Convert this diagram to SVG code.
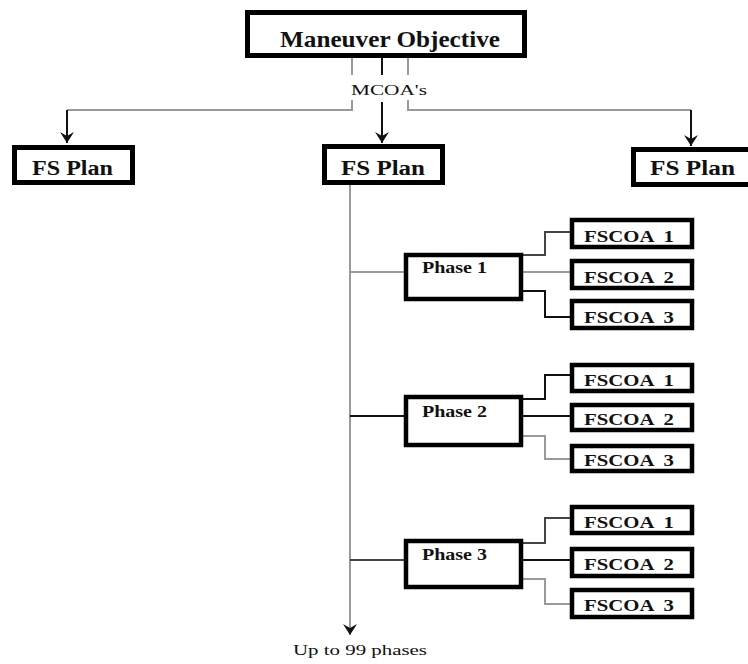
<svg xmlns="http://www.w3.org/2000/svg" width="748" height="664" viewBox="0 0 748 664">
<style>
.box{fill:#fff;stroke:#000;stroke-width:5}
.sbox{fill:#fff;stroke:#000;stroke-width:4.5}
.t{font-family:"Liberation Serif","Times New Roman",serif;font-weight:bold;fill:#111}
.n{font-family:"Liberation Serif","Times New Roman",serif;fill:#111}
.g{fill:none;stroke:#9a9a9a;stroke-width:2}
.k{fill:none;stroke:#111;stroke-width:2}
.d{fill:none;stroke:#444;stroke-width:2}
</style>
<defs>
<marker id="ad" markerUnits="userSpaceOnUse" markerWidth="14" markerHeight="14" viewBox="0 0 14 14" refX="7" refY="14" orient="0">
<path d="M0,3 L7,14 L14,3 L7,7 Z" fill="#111"/>
</marker>
</defs>
<g id="connectors">
<path class="g" d="M352,58 V75"/>
<path class="k" d="M382,58 V75"/>
<path class="g" d="M408,58 V75"/>
<path class="g" d="M352,100 V110 H67"/>
<path class="k" d="M67,110 V143" marker-end="url(#ad)"/>
<path class="k" d="M382,102 V143" marker-end="url(#ad)"/>
<path class="g" d="M408,100 V110 H691"/>
<path class="k" d="M691,110 V146" marker-end="url(#ad)"/>
<path class="g" d="M350,185 V635" marker-end="url(#ad)"/>
<path class="g" d="M350,272 H404"/>
<path class="d" d="M523,255 H545 V232 H570"/>
<path class="g" d="M523,272 H570"/>
<path class="k" d="M523,291 H545 V317 H570"/>
<path class="k" d="M350,416 H404"/>
<path class="k" d="M523,399 H545 V375 H570"/>
<path class="k" d="M523,416 H570"/>
<path class="g" d="M523,436 H545 V459 H570"/>
<path class="d" d="M350,560 H404"/>
<path class="d" d="M523,543 H545 V518 H570"/>
<path class="k" d="M523,560 H570"/>
<path class="g" d="M523,579 H545 V604 H570"/>
</g>
<g id="mcoa-label"><text class="n" x="351" y="95" font-size="15" textLength="76" lengthAdjust="spacingAndGlyphs">MCOA's</text></g>
<g id="maneuver-objective">
<rect class="box" x="247.5" y="12.5" width="277" height="43"/>
<text class="t" x="280" y="47" font-size="23" textLength="220" lengthAdjust="spacingAndGlyphs">Maneuver Objective</text>
</g>
<g id="fs-plan-left">
<rect class="box" x="14.5" y="147.5" width="118" height="35"/>
<text class="t" x="32" y="175" font-size="20" textLength="81" lengthAdjust="spacingAndGlyphs">FS Plan</text>
</g>
<g id="fs-plan-mid">
<rect class="box" x="324.5" y="146.5" width="118" height="36"/>
<text class="t" x="341" y="175" font-size="20" textLength="84" lengthAdjust="spacingAndGlyphs">FS Plan</text>
</g>
<g id="fs-plan-right">
<rect class="box" x="633.5" y="149.5" width="130" height="35"/>
<text class="t" x="650" y="175" font-size="20" textLength="85" lengthAdjust="spacingAndGlyphs">FS Plan</text>
</g>
<g id="phase1">
<rect class="sbox" x="406" y="255" width="115" height="44"/>
<text class="t" x="422" y="273" font-size="16" textLength="65" lengthAdjust="spacingAndGlyphs">Phase 1</text>
</g>
<g id="phase2">
<rect class="sbox" x="406" y="397" width="115" height="48"/>
<text class="t" x="422" y="417" font-size="16" textLength="65" lengthAdjust="spacingAndGlyphs">Phase 2</text>
</g>
<g id="phase3">
<rect class="sbox" x="406" y="541" width="115" height="46"/>
<text class="t" x="422" y="560" font-size="16" textLength="65" lengthAdjust="spacingAndGlyphs">Phase 3</text>
</g>
<g id="p1-fscoa1"><rect class="sbox" x="572" y="220" width="120" height="27"/><text class="t" x="584" y="242" font-size="17" textLength="90" lengthAdjust="spacingAndGlyphs" xml:space="preserve">FSCOA  1</text></g>
<g id="p1-fscoa2"><rect class="sbox" x="572" y="261" width="120" height="27"/><text class="t" x="584" y="283" font-size="17" textLength="90" lengthAdjust="spacingAndGlyphs" xml:space="preserve">FSCOA  2</text></g>
<g id="p1-fscoa3"><rect class="sbox" x="572" y="301" width="120" height="27"/><text class="t" x="584" y="323" font-size="17" textLength="90" lengthAdjust="spacingAndGlyphs" xml:space="preserve">FSCOA  3</text></g>
<g id="p2-fscoa1"><rect class="sbox" x="572" y="365" width="120" height="26"/><text class="t" x="584" y="386" font-size="17" textLength="90" lengthAdjust="spacingAndGlyphs" xml:space="preserve">FSCOA  1</text></g>
<g id="p2-fscoa2"><rect class="sbox" x="572" y="405" width="120" height="25"/><text class="t" x="584" y="425" font-size="17" textLength="90" lengthAdjust="spacingAndGlyphs" xml:space="preserve">FSCOA  2</text></g>
<g id="p2-fscoa3"><rect class="sbox" x="572" y="446" width="120" height="25"/><text class="t" x="584" y="466" font-size="17" textLength="90" lengthAdjust="spacingAndGlyphs" xml:space="preserve">FSCOA  3</text></g>
<g id="p3-fscoa1"><rect class="sbox" x="572" y="507" width="120" height="26"/><text class="t" x="584" y="528" font-size="17" textLength="90" lengthAdjust="spacingAndGlyphs" xml:space="preserve">FSCOA  1</text></g>
<g id="p3-fscoa2"><rect class="sbox" x="572" y="549" width="120" height="27"/><text class="t" x="584" y="570" font-size="17" textLength="90" lengthAdjust="spacingAndGlyphs" xml:space="preserve">FSCOA  2</text></g>
<g id="p3-fscoa3"><rect class="sbox" x="572" y="590" width="120" height="27"/><text class="t" x="584" y="611" font-size="17" textLength="90" lengthAdjust="spacingAndGlyphs" xml:space="preserve">FSCOA  3</text></g>
<g id="phases-note"><text class="n" x="293" y="655" font-size="15" textLength="134" lengthAdjust="spacingAndGlyphs">Up to 99 phases</text></g>
</svg>
